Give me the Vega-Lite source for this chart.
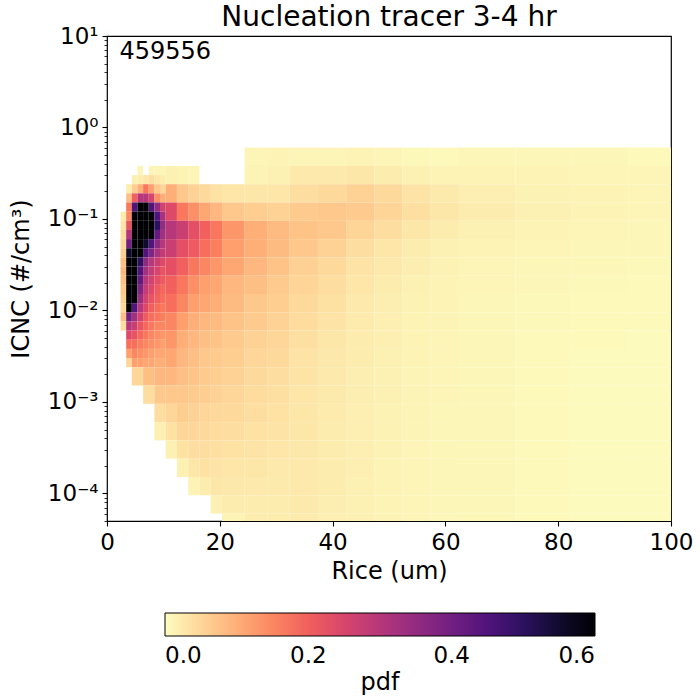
{
  "$schema": "https://vega.github.io/schema/vega-lite/v6.json",
  "width": 564,
  "height": 485,
  "autosize": "none",
  "padding": {"left": 107, "top": 36, "right": 29, "bottom": 179},
  "config": {
    "font": "DejaVu Sans",
    "view": {"stroke": "black", "strokeWidth": 1.2},
    "axis": {"grid": false, "domain": false, "labelColor": "black", "titleColor": "black", "tickColor": "black", "labelFontSize": 23, "titleFontSize": 24, "titleFontWeight": "normal", "labelFlush": false, "labelOverlap": false, "labelBound": false},
    "legend": {"labelColor": "black", "titleColor": "black"}
  },
  "title": {"text": "Nucleation tracer 3-4 hr", "fontSize": 28, "fontWeight": "normal", "color": "black", "offset": -7},
  "datasets": {
    "cols": [
      {"c": "C1", "x0": 2.4, "x1": 3.4}, {"c": "C2", "x0": 3.4, "x1": 4.4}, {"c": "C3", "x0": 4.4, "x1": 5.4}, {"c": "C4", "x0": 5.4, "x1": 6.4},
      {"c": "C5", "x0": 6.4, "x1": 7.4}, {"c": "C6", "x0": 7.4, "x1": 8.4}, {"c": "C7", "x0": 8.4, "x1": 9.4}, {"c": "C8", "x0": 9.4, "x1": 10.4},
      {"c": "B1", "x0": 10.4, "x1": 12.4}, {"c": "B2", "x0": 12.4, "x1": 14.4}, {"c": "B3", "x0": 14.4, "x1": 16.4}, {"c": "B4", "x0": 16.4, "x1": 18.4},
      {"c": "B5", "x0": 18.4, "x1": 20.4}, {"c": "B6", "x0": 20.4, "x1": 24.4}, {"c": "B7", "x0": 24.4, "x1": 28.4}, {"c": "B8", "x0": 28.4, "x1": 32.4},
      {"c": "D1", "x0": 4.4, "x1": 6.4}, {"c": "D2", "x0": 6.4, "x1": 8.4}, {"c": "D3", "x0": 8.4, "x1": 10.4},
      {"c": "P1", "x0": 32.4, "x1": 37.4}, {"c": "P2", "x0": 37.4, "x1": 42.4}, {"c": "P3", "x0": 42.4, "x1": 47.4},
      {"c": "P4", "x0": 47.4, "x1": 52.4}, {"c": "P5", "x0": 52.4, "x1": 57.4}, {"c": "P6", "x0": 57.4, "x1": 62.4},
      {"c": "K4", "x0": 62.4, "x1": 72.4}, {"c": "K5", "x0": 72.4, "x1": 82.4}, {"c": "K6", "x0": 82.4, "x1": 92.4}, {"c": "K7", "x0": 92.4, "x1": 100}
    ],
    "rows": [
      {"r": "R1", "y0": 0.302, "y1": 0.3802}, {"r": "R2", "y0": 0.2399, "y1": 0.302}, {"r": "R3", "y0": 0.1905, "y1": 0.2399},
      {"r": "R4", "y0": 0.1514, "y1": 0.1905}, {"r": "R5", "y0": 0.1202, "y1": 0.1514}, {"r": "R6", "y0": 0.0955, "y1": 0.1202},
      {"r": "R7", "y0": 0.07586, "y1": 0.0955}, {"r": "R8", "y0": 0.06026, "y1": 0.07586}, {"r": "R9", "y0": 0.04786, "y1": 0.06026},
      {"r": "R10", "y0": 0.03802, "y1": 0.04786}, {"r": "R11", "y0": 0.0302, "y1": 0.03802}, {"r": "R12", "y0": 0.02399, "y1": 0.0302},
      {"r": "R13", "y0": 0.01905, "y1": 0.02399}, {"r": "R14", "y0": 0.01514, "y1": 0.01905}, {"r": "R15", "y0": 0.01202, "y1": 0.01514},
      {"r": "R16", "y0": 0.00955, "y1": 0.01202}, {"r": "R17", "y0": 0.007586, "y1": 0.00955}, {"r": "R18", "y0": 0.006026, "y1": 0.007586},
      {"r": "R19", "y0": 0.004786, "y1": 0.006026}, {"r": "R20", "y0": 0.003802, "y1": 0.004786}, {"r": "R21", "y0": 0.00302, "y1": 0.003802},
      {"r": "R22", "y0": 0.002399, "y1": 0.00302},
      {"r": "S1", "y0": 0.3802, "y1": 0.6026}, {"r": "S2", "y0": 0.2399, "y1": 0.3802}, {"r": "S3", "y0": 0.1514, "y1": 0.2399},
      {"r": "S4", "y0": 0.0955, "y1": 0.1514}, {"r": "S5", "y0": 0.06026, "y1": 0.0955}, {"r": "S6", "y0": 0.03802, "y1": 0.06026},
      {"r": "S7", "y0": 0.02399, "y1": 0.03802}, {"r": "S8", "y0": 0.01514, "y1": 0.02399}, {"r": "S9", "y0": 0.00955, "y1": 0.01514},
      {"r": "S10", "y0": 0.006026, "y1": 0.00955}, {"r": "S11", "y0": 0.003802, "y1": 0.006026}, {"r": "S12", "y0": 0.002399, "y1": 0.003802},
      {"r": "S13", "y0": 0.001514, "y1": 0.002399}, {"r": "S14", "y0": 0.000955, "y1": 0.001514}, {"r": "S15", "y0": 0.0006026, "y1": 0.000955},
      {"r": "S16", "y0": 0.0003802, "y1": 0.0006026}, {"r": "S17", "y0": 0.0002399, "y1": 0.0003802}, {"r": "S18", "y0": 0.0001514, "y1": 0.0002399},
      {"r": "S19", "y0": 0.0000955, "y1": 0.0001514}, {"r": "S20", "y0": 0.00006026, "y1": 0.0000955}, {"r": "S21", "y0": 0.00005, "y1": 0.00006026}
    ],
    "cells": [
      {"c": "C4", "r": "R1", "pdf": 0.01}, {"c": "C6", "r": "R1", "pdf": 0.01}, {"c": "C7", "r": "R1", "pdf": 0.01}, {"c": "C8", "r": "R1", "pdf": 0.01},
      {"c": "C3", "r": "R2", "pdf": 0.015}, {"c": "C4", "r": "R2", "pdf": 0.02}, {"c": "C5", "r": "R2", "pdf": 0.03}, {"c": "C6", "r": "R2", "pdf": 0.04}, {"c": "C7", "r": "R2", "pdf": 0.03}, {"c": "C8", "r": "R2", "pdf": 0.02},
      {"c": "C2", "r": "R3", "pdf": 0.02}, {"c": "C3", "r": "R3", "pdf": 0.06}, {"c": "C4", "r": "R3", "pdf": 0.1}, {"c": "C5", "r": "R3", "pdf": 0.17}, {"c": "C6", "r": "R3", "pdf": 0.12}, {"c": "C7", "r": "R3", "pdf": 0.07}, {"c": "C8", "r": "R3", "pdf": 0.05},
      {"c": "C2", "r": "R4", "pdf": 0.08}, {"c": "C3", "r": "R4", "pdf": 0.2}, {"c": "C4", "r": "R4", "pdf": 0.3}, {"c": "C5", "r": "R4", "pdf": 0.3}, {"c": "C6", "r": "R4", "pdf": 0.25}, {"c": "C7", "r": "R4", "pdf": 0.14}, {"c": "C8", "r": "R4", "pdf": 0.1},
      {"c": "C2", "r": "R5", "pdf": 0.17}, {"c": "C3", "r": "R5", "pdf": 0.45}, {"c": "C4", "r": "R5", "pdf": 0.7}, {"c": "C5", "r": "R5", "pdf": 0.7}, {"c": "C6", "r": "R5", "pdf": 0.45}, {"c": "C7", "r": "R5", "pdf": 0.35}, {"c": "C8", "r": "R5", "pdf": 0.26},
      {"c": "C1", "r": "R6", "pdf": 0.02}, {"c": "C2", "r": "R6", "pdf": 0.15}, {"c": "C3", "r": "R6", "pdf": 0.7}, {"c": "C4", "r": "R6", "pdf": 0.7}, {"c": "C5", "r": "R6", "pdf": 0.7}, {"c": "C6", "r": "R6", "pdf": 0.7}, {"c": "C7", "r": "R6", "pdf": 0.45}, {"c": "C8", "r": "R6", "pdf": 0.32},
      {"c": "C1", "r": "R7", "pdf": 0.03}, {"c": "C2", "r": "R7", "pdf": 0.22}, {"c": "C3", "r": "R7", "pdf": 0.7}, {"c": "C4", "r": "R7", "pdf": 0.7}, {"c": "C5", "r": "R7", "pdf": 0.7}, {"c": "C6", "r": "R7", "pdf": 0.7}, {"c": "C7", "r": "R7", "pdf": 0.5}, {"c": "C8", "r": "R7", "pdf": 0.35},
      {"c": "C1", "r": "R8", "pdf": 0.04}, {"c": "C2", "r": "R8", "pdf": 0.3}, {"c": "C3", "r": "R8", "pdf": 0.7}, {"c": "C4", "r": "R8", "pdf": 0.7}, {"c": "C5", "r": "R8", "pdf": 0.7}, {"c": "C6", "r": "R8", "pdf": 0.6}, {"c": "C7", "r": "R8", "pdf": 0.42}, {"c": "C8", "r": "R8", "pdf": 0.33},
      {"c": "C1", "r": "R9", "pdf": 0.05}, {"c": "C2", "r": "R9", "pdf": 0.4}, {"c": "C3", "r": "R9", "pdf": 0.7}, {"c": "C4", "r": "R9", "pdf": 0.7}, {"c": "C5", "r": "R9", "pdf": 0.55}, {"c": "C6", "r": "R9", "pdf": 0.45}, {"c": "C7", "r": "R9", "pdf": 0.36}, {"c": "C8", "r": "R9", "pdf": 0.3},
      {"c": "C1", "r": "R10", "pdf": 0.06}, {"c": "C2", "r": "R10", "pdf": 0.55}, {"c": "C3", "r": "R10", "pdf": 0.7}, {"c": "C4", "r": "R10", "pdf": 0.62}, {"c": "C5", "r": "R10", "pdf": 0.45}, {"c": "C6", "r": "R10", "pdf": 0.38}, {"c": "C7", "r": "R10", "pdf": 0.32}, {"c": "C8", "r": "R10", "pdf": 0.28},
      {"c": "C1", "r": "R11", "pdf": 0.08}, {"c": "C2", "r": "R11", "pdf": 0.7}, {"c": "C3", "r": "R11", "pdf": 0.7}, {"c": "C4", "r": "R11", "pdf": 0.5}, {"c": "C5", "r": "R11", "pdf": 0.36}, {"c": "C6", "r": "R11", "pdf": 0.3}, {"c": "C7", "r": "R11", "pdf": 0.27}, {"c": "C8", "r": "R11", "pdf": 0.24},
      {"c": "C1", "r": "R12", "pdf": 0.09}, {"c": "C2", "r": "R12", "pdf": 0.7}, {"c": "C3", "r": "R12", "pdf": 0.7}, {"c": "C4", "r": "R12", "pdf": 0.45}, {"c": "C5", "r": "R12", "pdf": 0.33}, {"c": "C6", "r": "R12", "pdf": 0.28}, {"c": "C7", "r": "R12", "pdf": 0.25}, {"c": "C8", "r": "R12", "pdf": 0.22},
      {"c": "C1", "r": "R13", "pdf": 0.08}, {"c": "C2", "r": "R13", "pdf": 0.7}, {"c": "C3", "r": "R13", "pdf": 0.7}, {"c": "C4", "r": "R13", "pdf": 0.42}, {"c": "C5", "r": "R13", "pdf": 0.3}, {"c": "C6", "r": "R13", "pdf": 0.26}, {"c": "C7", "r": "R13", "pdf": 0.23}, {"c": "C8", "r": "R13", "pdf": 0.21},
      {"c": "C1", "r": "R14", "pdf": 0.07}, {"c": "C2", "r": "R14", "pdf": 0.7}, {"c": "C3", "r": "R14", "pdf": 0.68}, {"c": "C4", "r": "R14", "pdf": 0.38}, {"c": "C5", "r": "R14", "pdf": 0.28}, {"c": "C6", "r": "R14", "pdf": 0.24}, {"c": "C7", "r": "R14", "pdf": 0.21}, {"c": "C8", "r": "R14", "pdf": 0.19},
      {"c": "C1", "r": "R15", "pdf": 0.06}, {"c": "C2", "r": "R15", "pdf": 0.7}, {"c": "C3", "r": "R15", "pdf": 0.6}, {"c": "C4", "r": "R15", "pdf": 0.34}, {"c": "C5", "r": "R15", "pdf": 0.26}, {"c": "C6", "r": "R15", "pdf": 0.22}, {"c": "C7", "r": "R15", "pdf": 0.2}, {"c": "C8", "r": "R15", "pdf": 0.18},
      {"c": "C1", "r": "R16", "pdf": 0.05}, {"c": "C2", "r": "R16", "pdf": 0.6}, {"c": "C3", "r": "R16", "pdf": 0.45}, {"c": "C4", "r": "R16", "pdf": 0.3}, {"c": "C5", "r": "R16", "pdf": 0.24}, {"c": "C6", "r": "R16", "pdf": 0.2}, {"c": "C7", "r": "R16", "pdf": 0.18}, {"c": "C8", "r": "R16", "pdf": 0.17},
      {"c": "C1", "r": "R17", "pdf": 0.08}, {"c": "C2", "r": "R17", "pdf": 0.4}, {"c": "C3", "r": "R17", "pdf": 0.33}, {"c": "C4", "r": "R17", "pdf": 0.26}, {"c": "C5", "r": "R17", "pdf": 0.21}, {"c": "C6", "r": "R17", "pdf": 0.18}, {"c": "C7", "r": "R17", "pdf": 0.17}, {"c": "C8", "r": "R17", "pdf": 0.16},
      {"c": "C1", "r": "R18", "pdf": 0.04}, {"c": "C2", "r": "R18", "pdf": 0.3}, {"c": "C3", "r": "R18", "pdf": 0.27}, {"c": "C4", "r": "R18", "pdf": 0.22}, {"c": "C5", "r": "R18", "pdf": 0.19}, {"c": "C6", "r": "R18", "pdf": 0.17}, {"c": "C7", "r": "R18", "pdf": 0.15}, {"c": "C8", "r": "R18", "pdf": 0.15},
      {"c": "C2", "r": "R19", "pdf": 0.24}, {"c": "C3", "r": "R19", "pdf": 0.22}, {"c": "C4", "r": "R19", "pdf": 0.19}, {"c": "C5", "r": "R19", "pdf": 0.17}, {"c": "C6", "r": "R19", "pdf": 0.15}, {"c": "C7", "r": "R19", "pdf": 0.14}, {"c": "C8", "r": "R19", "pdf": 0.13},
      {"c": "C2", "r": "R20", "pdf": 0.18}, {"c": "C3", "r": "R20", "pdf": 0.18}, {"c": "C4", "r": "R20", "pdf": 0.16}, {"c": "C5", "r": "R20", "pdf": 0.15}, {"c": "C6", "r": "R20", "pdf": 0.14}, {"c": "C7", "r": "R20", "pdf": 0.13}, {"c": "C8", "r": "R20", "pdf": 0.12},
      {"c": "C2", "r": "R21", "pdf": 0.12}, {"c": "C3", "r": "R21", "pdf": 0.15}, {"c": "C4", "r": "R21", "pdf": 0.14}, {"c": "C5", "r": "R21", "pdf": 0.13}, {"c": "C6", "r": "R21", "pdf": 0.12}, {"c": "C7", "r": "R21", "pdf": 0.11}, {"c": "C8", "r": "R21", "pdf": 0.11},
      {"c": "C2", "r": "R22", "pdf": 0.05}, {"c": "C3", "r": "R22", "pdf": 0.12}, {"c": "C4", "r": "R22", "pdf": 0.12}, {"c": "C5", "r": "R22", "pdf": 0.11}, {"c": "C6", "r": "R22", "pdf": 0.11}, {"c": "C7", "r": "R22", "pdf": 0.1}, {"c": "C8", "r": "R22", "pdf": 0.1},
      {"c": "D1", "r": "S13", "pdf": 0.05}, {"c": "D2", "r": "S13", "pdf": 0.08}, {"c": "D2", "r": "S14", "pdf": 0.04},
      {"c": "D3", "r": "S13", "pdf": 0.09}, {"c": "D3", "r": "S14", "pdf": 0.07}, {"c": "D3", "r": "S15", "pdf": 0.04}, {"c": "D3", "r": "S16", "pdf": 0.015},
      {"c": "B7", "r": "S1", "pdf": 0.01}, {"c": "B8", "r": "S1", "pdf": 0.012},
      {"c": "B1", "r": "S2", "pdf": 0.015}, {"c": "B2", "r": "S2", "pdf": 0.012}, {"c": "B3", "r": "S2", "pdf": 0.01}, {"c": "B7", "r": "S2", "pdf": 0.012}, {"c": "B8", "r": "S2", "pdf": 0.015},
      {"c": "B1", "r": "S3", "pdf": 0.1}, {"c": "B2", "r": "S3", "pdf": 0.07}, {"c": "B3", "r": "S3", "pdf": 0.055}, {"c": "B4", "r": "S3", "pdf": 0.045}, {"c": "B5", "r": "S3", "pdf": 0.035}, {"c": "B6", "r": "S3", "pdf": 0.03}, {"c": "B7", "r": "S3", "pdf": 0.028}, {"c": "B8", "r": "S3", "pdf": 0.03},
      {"c": "B1", "r": "S4", "pdf": 0.24}, {"c": "B2", "r": "S4", "pdf": 0.17}, {"c": "B3", "r": "S4", "pdf": 0.14}, {"c": "B4", "r": "S4", "pdf": 0.11}, {"c": "B5", "r": "S4", "pdf": 0.09}, {"c": "B6", "r": "S4", "pdf": 0.07}, {"c": "B7", "r": "S4", "pdf": 0.06}, {"c": "B8", "r": "S4", "pdf": 0.055},
      {"c": "B1", "r": "S5", "pdf": 0.3}, {"c": "B2", "r": "S5", "pdf": 0.27}, {"c": "B3", "r": "S5", "pdf": 0.23}, {"c": "B4", "r": "S5", "pdf": 0.2}, {"c": "B5", "r": "S5", "pdf": 0.17}, {"c": "B6", "r": "S5", "pdf": 0.13}, {"c": "B7", "r": "S5", "pdf": 0.1}, {"c": "B8", "r": "S5", "pdf": 0.085},
      {"c": "B1", "r": "S6", "pdf": 0.27}, {"c": "B2", "r": "S6", "pdf": 0.23}, {"c": "B3", "r": "S6", "pdf": 0.21}, {"c": "B4", "r": "S6", "pdf": 0.18}, {"c": "B5", "r": "S6", "pdf": 0.16}, {"c": "B6", "r": "S6", "pdf": 0.12}, {"c": "B7", "r": "S6", "pdf": 0.1}, {"c": "B8", "r": "S6", "pdf": 0.085},
      {"c": "B1", "r": "S7", "pdf": 0.23}, {"c": "B2", "r": "S7", "pdf": 0.2}, {"c": "B3", "r": "S7", "pdf": 0.17}, {"c": "B4", "r": "S7", "pdf": 0.15}, {"c": "B5", "r": "S7", "pdf": 0.13}, {"c": "B6", "r": "S7", "pdf": 0.11}, {"c": "B7", "r": "S7", "pdf": 0.09}, {"c": "B8", "r": "S7", "pdf": 0.075},
      {"c": "B1", "r": "S8", "pdf": 0.2}, {"c": "B2", "r": "S8", "pdf": 0.17}, {"c": "B3", "r": "S8", "pdf": 0.14}, {"c": "B4", "r": "S8", "pdf": 0.12}, {"c": "B5", "r": "S8", "pdf": 0.11}, {"c": "B6", "r": "S8", "pdf": 0.09}, {"c": "B7", "r": "S8", "pdf": 0.08}, {"c": "B8", "r": "S8", "pdf": 0.065},
      {"c": "B1", "r": "S9", "pdf": 0.18}, {"c": "B2", "r": "S9", "pdf": 0.15}, {"c": "B3", "r": "S9", "pdf": 0.12}, {"c": "B4", "r": "S9", "pdf": 0.11}, {"c": "B5", "r": "S9", "pdf": 0.1}, {"c": "B6", "r": "S9", "pdf": 0.085}, {"c": "B7", "r": "S9", "pdf": 0.07}, {"c": "B8", "r": "S9", "pdf": 0.06},
      {"c": "B1", "r": "S10", "pdf": 0.15}, {"c": "B2", "r": "S10", "pdf": 0.12}, {"c": "B3", "r": "S10", "pdf": 0.1}, {"c": "B4", "r": "S10", "pdf": 0.09}, {"c": "B5", "r": "S10", "pdf": 0.085}, {"c": "B6", "r": "S10", "pdf": 0.075}, {"c": "B7", "r": "S10", "pdf": 0.065}, {"c": "B8", "r": "S10", "pdf": 0.055},
      {"c": "B1", "r": "S11", "pdf": 0.13}, {"c": "B2", "r": "S11", "pdf": 0.1}, {"c": "B3", "r": "S11", "pdf": 0.09}, {"c": "B4", "r": "S11", "pdf": 0.08}, {"c": "B5", "r": "S11", "pdf": 0.075}, {"c": "B6", "r": "S11", "pdf": 0.065}, {"c": "B7", "r": "S11", "pdf": 0.055}, {"c": "B8", "r": "S11", "pdf": 0.05},
      {"c": "B1", "r": "S12", "pdf": 0.11}, {"c": "B2", "r": "S12", "pdf": 0.09}, {"c": "B3", "r": "S12", "pdf": 0.08}, {"c": "B4", "r": "S12", "pdf": 0.07}, {"c": "B5", "r": "S12", "pdf": 0.065}, {"c": "B6", "r": "S12", "pdf": 0.06}, {"c": "B7", "r": "S12", "pdf": 0.05}, {"c": "B8", "r": "S12", "pdf": 0.045},
      {"c": "B1", "r": "S13", "pdf": 0.09}, {"c": "B2", "r": "S13", "pdf": 0.08}, {"c": "B3", "r": "S13", "pdf": 0.075}, {"c": "B4", "r": "S13", "pdf": 0.065}, {"c": "B5", "r": "S13", "pdf": 0.06}, {"c": "B6", "r": "S13", "pdf": 0.055}, {"c": "B7", "r": "S13", "pdf": 0.045}, {"c": "B8", "r": "S13", "pdf": 0.04},
      {"c": "B1", "r": "S14", "pdf": 0.07}, {"c": "B2", "r": "S14", "pdf": 0.07}, {"c": "B3", "r": "S14", "pdf": 0.065}, {"c": "B4", "r": "S14", "pdf": 0.06}, {"c": "B5", "r": "S14", "pdf": 0.055}, {"c": "B6", "r": "S14", "pdf": 0.05}, {"c": "B7", "r": "S14", "pdf": 0.042}, {"c": "B8", "r": "S14", "pdf": 0.038},
      {"c": "B1", "r": "S15", "pdf": 0.05}, {"c": "B2", "r": "S15", "pdf": 0.06}, {"c": "B3", "r": "S15", "pdf": 0.055}, {"c": "B4", "r": "S15", "pdf": 0.05}, {"c": "B5", "r": "S15", "pdf": 0.048}, {"c": "B6", "r": "S15", "pdf": 0.045}, {"c": "B7", "r": "S15", "pdf": 0.04}, {"c": "B8", "r": "S15", "pdf": 0.035},
      {"c": "B1", "r": "S16", "pdf": 0.035}, {"c": "B2", "r": "S16", "pdf": 0.05}, {"c": "B3", "r": "S16", "pdf": 0.05}, {"c": "B4", "r": "S16", "pdf": 0.045}, {"c": "B5", "r": "S16", "pdf": 0.042}, {"c": "B6", "r": "S16", "pdf": 0.04}, {"c": "B7", "r": "S16", "pdf": 0.035}, {"c": "B8", "r": "S16", "pdf": 0.032},
      {"c": "B1", "r": "S17", "pdf": 0.015}, {"c": "B2", "r": "S17", "pdf": 0.035}, {"c": "B3", "r": "S17", "pdf": 0.04}, {"c": "B4", "r": "S17", "pdf": 0.04}, {"c": "B5", "r": "S17", "pdf": 0.038}, {"c": "B6", "r": "S17", "pdf": 0.035}, {"c": "B7", "r": "S17", "pdf": 0.032}, {"c": "B8", "r": "S17", "pdf": 0.03},
      {"c": "B2", "r": "S18", "pdf": 0.015}, {"c": "B3", "r": "S18", "pdf": 0.03}, {"c": "B4", "r": "S18", "pdf": 0.035}, {"c": "B5", "r": "S18", "pdf": 0.033}, {"c": "B6", "r": "S18", "pdf": 0.03}, {"c": "B7", "r": "S18", "pdf": 0.028}, {"c": "B8", "r": "S18", "pdf": 0.026},
      {"c": "B3", "r": "S19", "pdf": 0.012}, {"c": "B4", "r": "S19", "pdf": 0.02}, {"c": "B5", "r": "S19", "pdf": 0.028}, {"c": "B6", "r": "S19", "pdf": 0.027}, {"c": "B7", "r": "S19", "pdf": 0.025}, {"c": "B8", "r": "S19", "pdf": 0.024},
      {"c": "B5", "r": "S20", "pdf": 0.015}, {"c": "B6", "r": "S20", "pdf": 0.022}, {"c": "B7", "r": "S20", "pdf": 0.022}, {"c": "B8", "r": "S20", "pdf": 0.022},
      {"c": "B6", "r": "S21", "pdf": 0.012}, {"c": "B7", "r": "S21", "pdf": 0.02}, {"c": "B8", "r": "S21", "pdf": 0.02},
      {"c": "P1", "r": "S1", "pdf": 0.01}, {"c": "P2", "r": "S1", "pdf": 0.01}, {"c": "P3", "r": "S1", "pdf": 0.012}, {"c": "P4", "r": "S1", "pdf": 0.01}, {"c": "P5", "r": "S1", "pdf": 0.006}, {"c": "P6", "r": "S1", "pdf": 0.005},
      {"c": "P1", "r": "S2", "pdf": 0.025}, {"c": "P2", "r": "S2", "pdf": 0.025}, {"c": "P3", "r": "S2", "pdf": 0.028}, {"c": "P4", "r": "S2", "pdf": 0.022}, {"c": "P5", "r": "S2", "pdf": 0.016}, {"c": "P6", "r": "S2", "pdf": 0.012},
      {"c": "P1", "r": "S3", "pdf": 0.04}, {"c": "P2", "r": "S3", "pdf": 0.045}, {"c": "P3", "r": "S3", "pdf": 0.055}, {"c": "P4", "r": "S3", "pdf": 0.045}, {"c": "P5", "r": "S3", "pdf": 0.033}, {"c": "P6", "r": "S3", "pdf": 0.024},
      {"c": "P1", "r": "S4", "pdf": 0.065}, {"c": "P2", "r": "S4", "pdf": 0.068}, {"c": "P3", "r": "S4", "pdf": 0.065}, {"c": "P4", "r": "S4", "pdf": 0.052}, {"c": "P5", "r": "S4", "pdf": 0.038}, {"c": "P6", "r": "S4", "pdf": 0.028},
      {"c": "P1", "r": "S5", "pdf": 0.075}, {"c": "P2", "r": "S5", "pdf": 0.068}, {"c": "P3", "r": "S5", "pdf": 0.052}, {"c": "P4", "r": "S5", "pdf": 0.04}, {"c": "P5", "r": "S5", "pdf": 0.028}, {"c": "P6", "r": "S5", "pdf": 0.02},
      {"c": "P1", "r": "S6", "pdf": 0.068}, {"c": "P2", "r": "S6", "pdf": 0.055}, {"c": "P3", "r": "S6", "pdf": 0.04}, {"c": "P4", "r": "S6", "pdf": 0.03}, {"c": "P5", "r": "S6", "pdf": 0.022}, {"c": "P6", "r": "S6", "pdf": 0.016},
      {"c": "P1", "r": "S7", "pdf": 0.058}, {"c": "P2", "r": "S7", "pdf": 0.046}, {"c": "P3", "r": "S7", "pdf": 0.034}, {"c": "P4", "r": "S7", "pdf": 0.026}, {"c": "P5", "r": "S7", "pdf": 0.019}, {"c": "P6", "r": "S7", "pdf": 0.014},
      {"c": "P1", "r": "S8", "pdf": 0.052}, {"c": "P2", "r": "S8", "pdf": 0.04}, {"c": "P3", "r": "S8", "pdf": 0.03}, {"c": "P4", "r": "S8", "pdf": 0.022}, {"c": "P5", "r": "S8", "pdf": 0.016}, {"c": "P6", "r": "S8", "pdf": 0.013},
      {"c": "P1", "r": "S9", "pdf": 0.046}, {"c": "P2", "r": "S9", "pdf": 0.036}, {"c": "P3", "r": "S9", "pdf": 0.026}, {"c": "P4", "r": "S9", "pdf": 0.019}, {"c": "P5", "r": "S9", "pdf": 0.014}, {"c": "P6", "r": "S9", "pdf": 0.012},
      {"c": "P1", "r": "S10", "pdf": 0.042}, {"c": "P2", "r": "S10", "pdf": 0.032}, {"c": "P3", "r": "S10", "pdf": 0.023}, {"c": "P4", "r": "S10", "pdf": 0.018}, {"c": "P5", "r": "S10", "pdf": 0.013}, {"c": "P6", "r": "S10", "pdf": 0.011},
      {"c": "P1", "r": "S11", "pdf": 0.038}, {"c": "P2", "r": "S11", "pdf": 0.029}, {"c": "P3", "r": "S11", "pdf": 0.021}, {"c": "P4", "r": "S11", "pdf": 0.017}, {"c": "P5", "r": "S11", "pdf": 0.012}, {"c": "P6", "r": "S11", "pdf": 0.01},
      {"c": "P1", "r": "S12", "pdf": 0.034}, {"c": "P2", "r": "S12", "pdf": 0.027}, {"c": "P3", "r": "S12", "pdf": 0.02}, {"c": "P4", "r": "S12", "pdf": 0.016}, {"c": "P5", "r": "S12", "pdf": 0.012}, {"c": "P6", "r": "S12", "pdf": 0.01},
      {"c": "P1", "r": "S13", "pdf": 0.032}, {"c": "P2", "r": "S13", "pdf": 0.025}, {"c": "P3", "r": "S13", "pdf": 0.019}, {"c": "P4", "r": "S13", "pdf": 0.015}, {"c": "P5", "r": "S13", "pdf": 0.011}, {"c": "P6", "r": "S13", "pdf": 0.01},
      {"c": "P1", "r": "S14", "pdf": 0.03}, {"c": "P2", "r": "S14", "pdf": 0.024}, {"c": "P3", "r": "S14", "pdf": 0.019}, {"c": "P4", "r": "S14", "pdf": 0.015}, {"c": "P5", "r": "S14", "pdf": 0.011}, {"c": "P6", "r": "S14", "pdf": 0.01},
      {"c": "P1", "r": "S15", "pdf": 0.029}, {"c": "P2", "r": "S15", "pdf": 0.023}, {"c": "P3", "r": "S15", "pdf": 0.018}, {"c": "P4", "r": "S15", "pdf": 0.014}, {"c": "P5", "r": "S15", "pdf": 0.011}, {"c": "P6", "r": "S15", "pdf": 0.009},
      {"c": "P1", "r": "S16", "pdf": 0.028}, {"c": "P2", "r": "S16", "pdf": 0.022}, {"c": "P3", "r": "S16", "pdf": 0.018}, {"c": "P4", "r": "S16", "pdf": 0.014}, {"c": "P5", "r": "S16", "pdf": 0.011}, {"c": "P6", "r": "S16", "pdf": 0.009},
      {"c": "P1", "r": "S17", "pdf": 0.027}, {"c": "P2", "r": "S17", "pdf": 0.021}, {"c": "P3", "r": "S17", "pdf": 0.017}, {"c": "P4", "r": "S17", "pdf": 0.014}, {"c": "P5", "r": "S17", "pdf": 0.01}, {"c": "P6", "r": "S17", "pdf": 0.009},
      {"c": "P1", "r": "S18", "pdf": 0.026}, {"c": "P2", "r": "S18", "pdf": 0.02}, {"c": "P3", "r": "S18", "pdf": 0.017}, {"c": "P4", "r": "S18", "pdf": 0.013}, {"c": "P5", "r": "S18", "pdf": 0.01}, {"c": "P6", "r": "S18", "pdf": 0.009},
      {"c": "P1", "r": "S19", "pdf": 0.025}, {"c": "P2", "r": "S19", "pdf": 0.02}, {"c": "P3", "r": "S19", "pdf": 0.016}, {"c": "P4", "r": "S19", "pdf": 0.013}, {"c": "P5", "r": "S19", "pdf": 0.01}, {"c": "P6", "r": "S19", "pdf": 0.009},
      {"c": "P1", "r": "S20", "pdf": 0.024}, {"c": "P2", "r": "S20", "pdf": 0.019}, {"c": "P3", "r": "S20", "pdf": 0.016}, {"c": "P4", "r": "S20", "pdf": 0.013}, {"c": "P5", "r": "S20", "pdf": 0.01}, {"c": "P6", "r": "S20", "pdf": 0.009},
      {"c": "P1", "r": "S21", "pdf": 0.023}, {"c": "P2", "r": "S21", "pdf": 0.018}, {"c": "P3", "r": "S21", "pdf": 0.015}, {"c": "P4", "r": "S21", "pdf": 0.013}, {"c": "P5", "r": "S21", "pdf": 0.01}, {"c": "P6", "r": "S21", "pdf": 0.009},
      {"c": "K4", "r": "S1", "pdf": 0.008}, {"c": "K5", "r": "S1", "pdf": 0.008}, {"c": "K6", "r": "S1", "pdf": 0.008}, {"c": "K7", "r": "S1", "pdf": 0.005},
      {"c": "K4", "r": "S2", "pdf": 0.012}, {"c": "K5", "r": "S2", "pdf": 0.012}, {"c": "K6", "r": "S2", "pdf": 0.01}, {"c": "K7", "r": "S2", "pdf": 0.01},
      {"c": "K4", "r": "S3", "pdf": 0.018}, {"c": "K5", "r": "S3", "pdf": 0.014}, {"c": "K6", "r": "S3", "pdf": 0.012}, {"c": "K7", "r": "S3", "pdf": 0.01},
      {"c": "K4", "r": "S4", "pdf": 0.02}, {"c": "K5", "r": "S4", "pdf": 0.015}, {"c": "K6", "r": "S4", "pdf": 0.012}, {"c": "K7", "r": "S4", "pdf": 0.01},
      {"c": "K4", "r": "S5", "pdf": 0.015}, {"c": "K5", "r": "S5", "pdf": 0.012}, {"c": "K6", "r": "S5", "pdf": 0.01}, {"c": "K7", "r": "S5", "pdf": 0.008},
      {"c": "K4", "r": "S6", "pdf": 0.012}, {"c": "K5", "r": "S6", "pdf": 0.01}, {"c": "K6", "r": "S6", "pdf": 0.008}, {"c": "K7", "r": "S6", "pdf": 0.007},
      {"c": "K4", "r": "S7", "pdf": 0.01}, {"c": "K5", "r": "S7", "pdf": 0.008}, {"c": "K6", "r": "S7", "pdf": 0.007}, {"c": "K7", "r": "S7", "pdf": 0.006},
      {"c": "K4", "r": "S8", "pdf": 0.01}, {"c": "K5", "r": "S8", "pdf": 0.007}, {"c": "K6", "r": "S8", "pdf": 0.006}, {"c": "K7", "r": "S8", "pdf": 0.005},
      {"c": "K4", "r": "S9", "pdf": 0.009}, {"c": "K5", "r": "S9", "pdf": 0.006}, {"c": "K6", "r": "S9", "pdf": 0.005}, {"c": "K7", "r": "S9", "pdf": 0.005},
      {"c": "K4", "r": "S10", "pdf": 0.008}, {"c": "K5", "r": "S10", "pdf": 0.006}, {"c": "K6", "r": "S10", "pdf": 0.005}, {"c": "K7", "r": "S10", "pdf": 0.005},
      {"c": "K4", "r": "S11", "pdf": 0.008}, {"c": "K5", "r": "S11", "pdf": 0.005}, {"c": "K6", "r": "S11", "pdf": 0.005}, {"c": "K7", "r": "S11", "pdf": 0.004},
      {"c": "K4", "r": "S12", "pdf": 0.007}, {"c": "K5", "r": "S12", "pdf": 0.005}, {"c": "K6", "r": "S12", "pdf": 0.004}, {"c": "K7", "r": "S12", "pdf": 0.004},
      {"c": "K4", "r": "S13", "pdf": 0.007}, {"c": "K5", "r": "S13", "pdf": 0.005}, {"c": "K6", "r": "S13", "pdf": 0.004}, {"c": "K7", "r": "S13", "pdf": 0.004},
      {"c": "K4", "r": "S14", "pdf": 0.007}, {"c": "K5", "r": "S14", "pdf": 0.005}, {"c": "K6", "r": "S14", "pdf": 0.004}, {"c": "K7", "r": "S14", "pdf": 0.004},
      {"c": "K4", "r": "S15", "pdf": 0.007}, {"c": "K5", "r": "S15", "pdf": 0.005}, {"c": "K6", "r": "S15", "pdf": 0.004}, {"c": "K7", "r": "S15", "pdf": 0.004},
      {"c": "K4", "r": "S16", "pdf": 0.007}, {"c": "K5", "r": "S16", "pdf": 0.005}, {"c": "K6", "r": "S16", "pdf": 0.004}, {"c": "K7", "r": "S16", "pdf": 0.004},
      {"c": "K4", "r": "S17", "pdf": 0.007}, {"c": "K5", "r": "S17", "pdf": 0.005}, {"c": "K6", "r": "S17", "pdf": 0.004}, {"c": "K7", "r": "S17", "pdf": 0.004},
      {"c": "K4", "r": "S18", "pdf": 0.007}, {"c": "K5", "r": "S18", "pdf": 0.005}, {"c": "K6", "r": "S18", "pdf": 0.004}, {"c": "K7", "r": "S18", "pdf": 0.004},
      {"c": "K4", "r": "S19", "pdf": 0.007}, {"c": "K5", "r": "S19", "pdf": 0.005}, {"c": "K6", "r": "S19", "pdf": 0.004}, {"c": "K7", "r": "S19", "pdf": 0.004},
      {"c": "K4", "r": "S20", "pdf": 0.007}, {"c": "K5", "r": "S20", "pdf": 0.005}, {"c": "K6", "r": "S20", "pdf": 0.004}, {"c": "K7", "r": "S20", "pdf": 0.004},
      {"c": "K4", "r": "S21", "pdf": 0.007}, {"c": "K5", "r": "S21", "pdf": 0.005}, {"c": "K6", "r": "S21", "pdf": 0.004}, {"c": "K7", "r": "S21", "pdf": 0.004}
    ]
  },
  "layer": [
    {
      "data": {"name": "cells"},
      "transform": [
        {"lookup": "c", "from": {"data": {"name": "cols"}, "key": "c", "fields": ["x0", "x1"]}},
        {"lookup": "r", "from": {"data": {"name": "rows"}, "key": "r", "fields": ["y0", "y1"]}}
      ],
      "mark": {"type": "rect"},
      "encoding": {
        "x": {"field": "x0", "type": "quantitative", "scale": {"domain": [0, 100], "nice": false, "zero": false},
          "axis": {"title": "Rice (um)", "values": [0, 20, 40, 60, 80, 100], "tickSize": 5, "tickWidth": 1.1, "labelPadding": 5, "titlePadding": 5}},
        "x2": {"field": "x1"},
        "y": {"field": "y0", "type": "quantitative",
          "scale": {"type": "log", "domain": [0.00005, 10], "nice": false},
          "axis": {
            "title": "ICNC (#/cm³)",
            "titlePadding": 14,
            "labelPadding": 4,
            "values": [0.00005, 0.00006, 0.00007, 0.00008, 0.00009,
              0.0001, 0.0002, 0.0003, 0.0004, 0.0005, 0.0006, 0.0007, 0.0008, 0.0009,
              0.001, 0.002, 0.003, 0.004, 0.005, 0.006, 0.007, 0.008, 0.009,
              0.01, 0.02, 0.03, 0.04, 0.05, 0.06, 0.07, 0.08, 0.09,
              0.1, 0.2, 0.3, 0.4, 0.5, 0.6, 0.7, 0.8, 0.9,
              1, 2, 3, 4, 5, 6, 7, 8, 9, 10],
            "labelExpr": "abs(log(datum.value)/LN10 - round(log(datum.value)/LN10)) < 0.001 ? {'1': '10¹', '0': '10⁰', '-1': '10⁻¹', '-2': '10⁻²', '-3': '10⁻³', '-4': '10⁻⁴'}[toString(round(log(datum.value)/LN10))] : ''",
            "tickSize": {"condition": {"test": "abs(log(datum.value)/LN10 - round(log(datum.value)/LN10)) < 0.001", "value": 5}, "value": 3},
            "tickWidth": {"condition": {"test": "abs(log(datum.value)/LN10 - round(log(datum.value)/LN10)) < 0.001", "value": 1.1}, "value": 0.8}
          }},
        "y2": {"field": "y1"},
        "color": {
          "field": "pdf", "type": "quantitative",
          "scale": {"scheme": "magma", "reverse": true, "domain": [0, 0.6], "clamp": true},
          "legend": {
            "orient": "none", "direction": "horizontal", "legendX": 58, "legendY": 577,
            "gradientLength": 430, "gradientThickness": 23,
            "gradientStrokeColor": "black", "gradientStrokeWidth": 1,
            "values": [0, 0.2, 0.4, 0.6], "format": ".1f", "labelAlign": "center",
            "labelFontSize": 23, "labelOffset": 9,
            "title": "pdf", "titleOrient": "bottom", "titleAnchor": "middle", "titleAlign": "center",
            "titleFontSize": 24, "titleFontWeight": "normal", "titlePadding": 3
          }
        }
      }
    },
    {
      "data": {"values": [{"label": "459556"}]},
      "mark": {"type": "text", "align": "left", "baseline": "middle", "fontSize": 24, "color": "black"},
      "encoding": {
        "x": {"datum": 2.2, "type": "quantitative"},
        "y": {"datum": 6.7, "type": "quantitative"},
        "text": {"field": "label"}
      }
    }
  ]
}
